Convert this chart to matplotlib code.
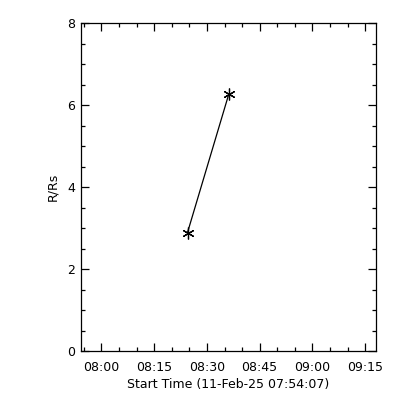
import numpy as np
import matplotlib
matplotlib.use("Agg")
import matplotlib.pyplot as plt
import matplotlib.dates as mdates
from datetime import datetime

# data
times = ["2025-02-11 08:24:29", "2025-02-11 08:36:14"]
heights = [2.89, 6.27]
t_start = "2025-02-11 07:54:07"
t_end = "2025-02-11 09:18:04"
xlabel = "Start Time (11-Feb-25 07:54:07)"
ylabel = "R/Rs"

plt.rcParams["font.family"] = "DejaVu Sans"
plt.rcParams["font.size"] = 9

t = [datetime.strptime(s, "%Y-%m-%d %H:%M:%S") for s in times]
t0 = datetime.strptime(t_start, "%Y-%m-%d %H:%M:%S")
t1 = datetime.strptime(t_end, "%Y-%m-%d %H:%M:%S")

fig = plt.figure(figsize=(4, 4), dpi=100)
ax = fig.add_axes([80.7/400, 1 - 351/400, (376 - 80.7)/400, (351 - 23)/400])

ax.plot(t, heights, color="black", lw=0.9, marker=(6, 2, 0), ms=8.5, mew=0.9)

ax.set_xlim(t0, t1)
ax.set_ylim(0, 8)
ax.xaxis.set_major_locator(mdates.MinuteLocator(byminute=[0, 15, 30, 45]))
ax.xaxis.set_minor_locator(mdates.MinuteLocator(byminute=range(0, 60, 5)))
ax.xaxis.set_major_formatter(mdates.DateFormatter("%H:%M"))
ax.set_yticks([0, 2, 4, 6, 8])
ax.set_yticks(np.arange(0, 8.01, 0.5), minor=True)

ax.tick_params(which="both", direction="in", top=True, right=True, color="black", width=0.9)
ax.tick_params(which="major", length=6)
ax.tick_params(which="minor", length=3)
ax.tick_params(axis="x", pad=7)
ax.tick_params(axis="y", pad=4)
for sp in ax.spines.values():
    sp.set_linewidth(0.9)

ax.set_xlabel(xlabel, labelpad=3)
ax.set_ylabel(ylabel, labelpad=6)

fig.savefig("out.png", dpi=100)
